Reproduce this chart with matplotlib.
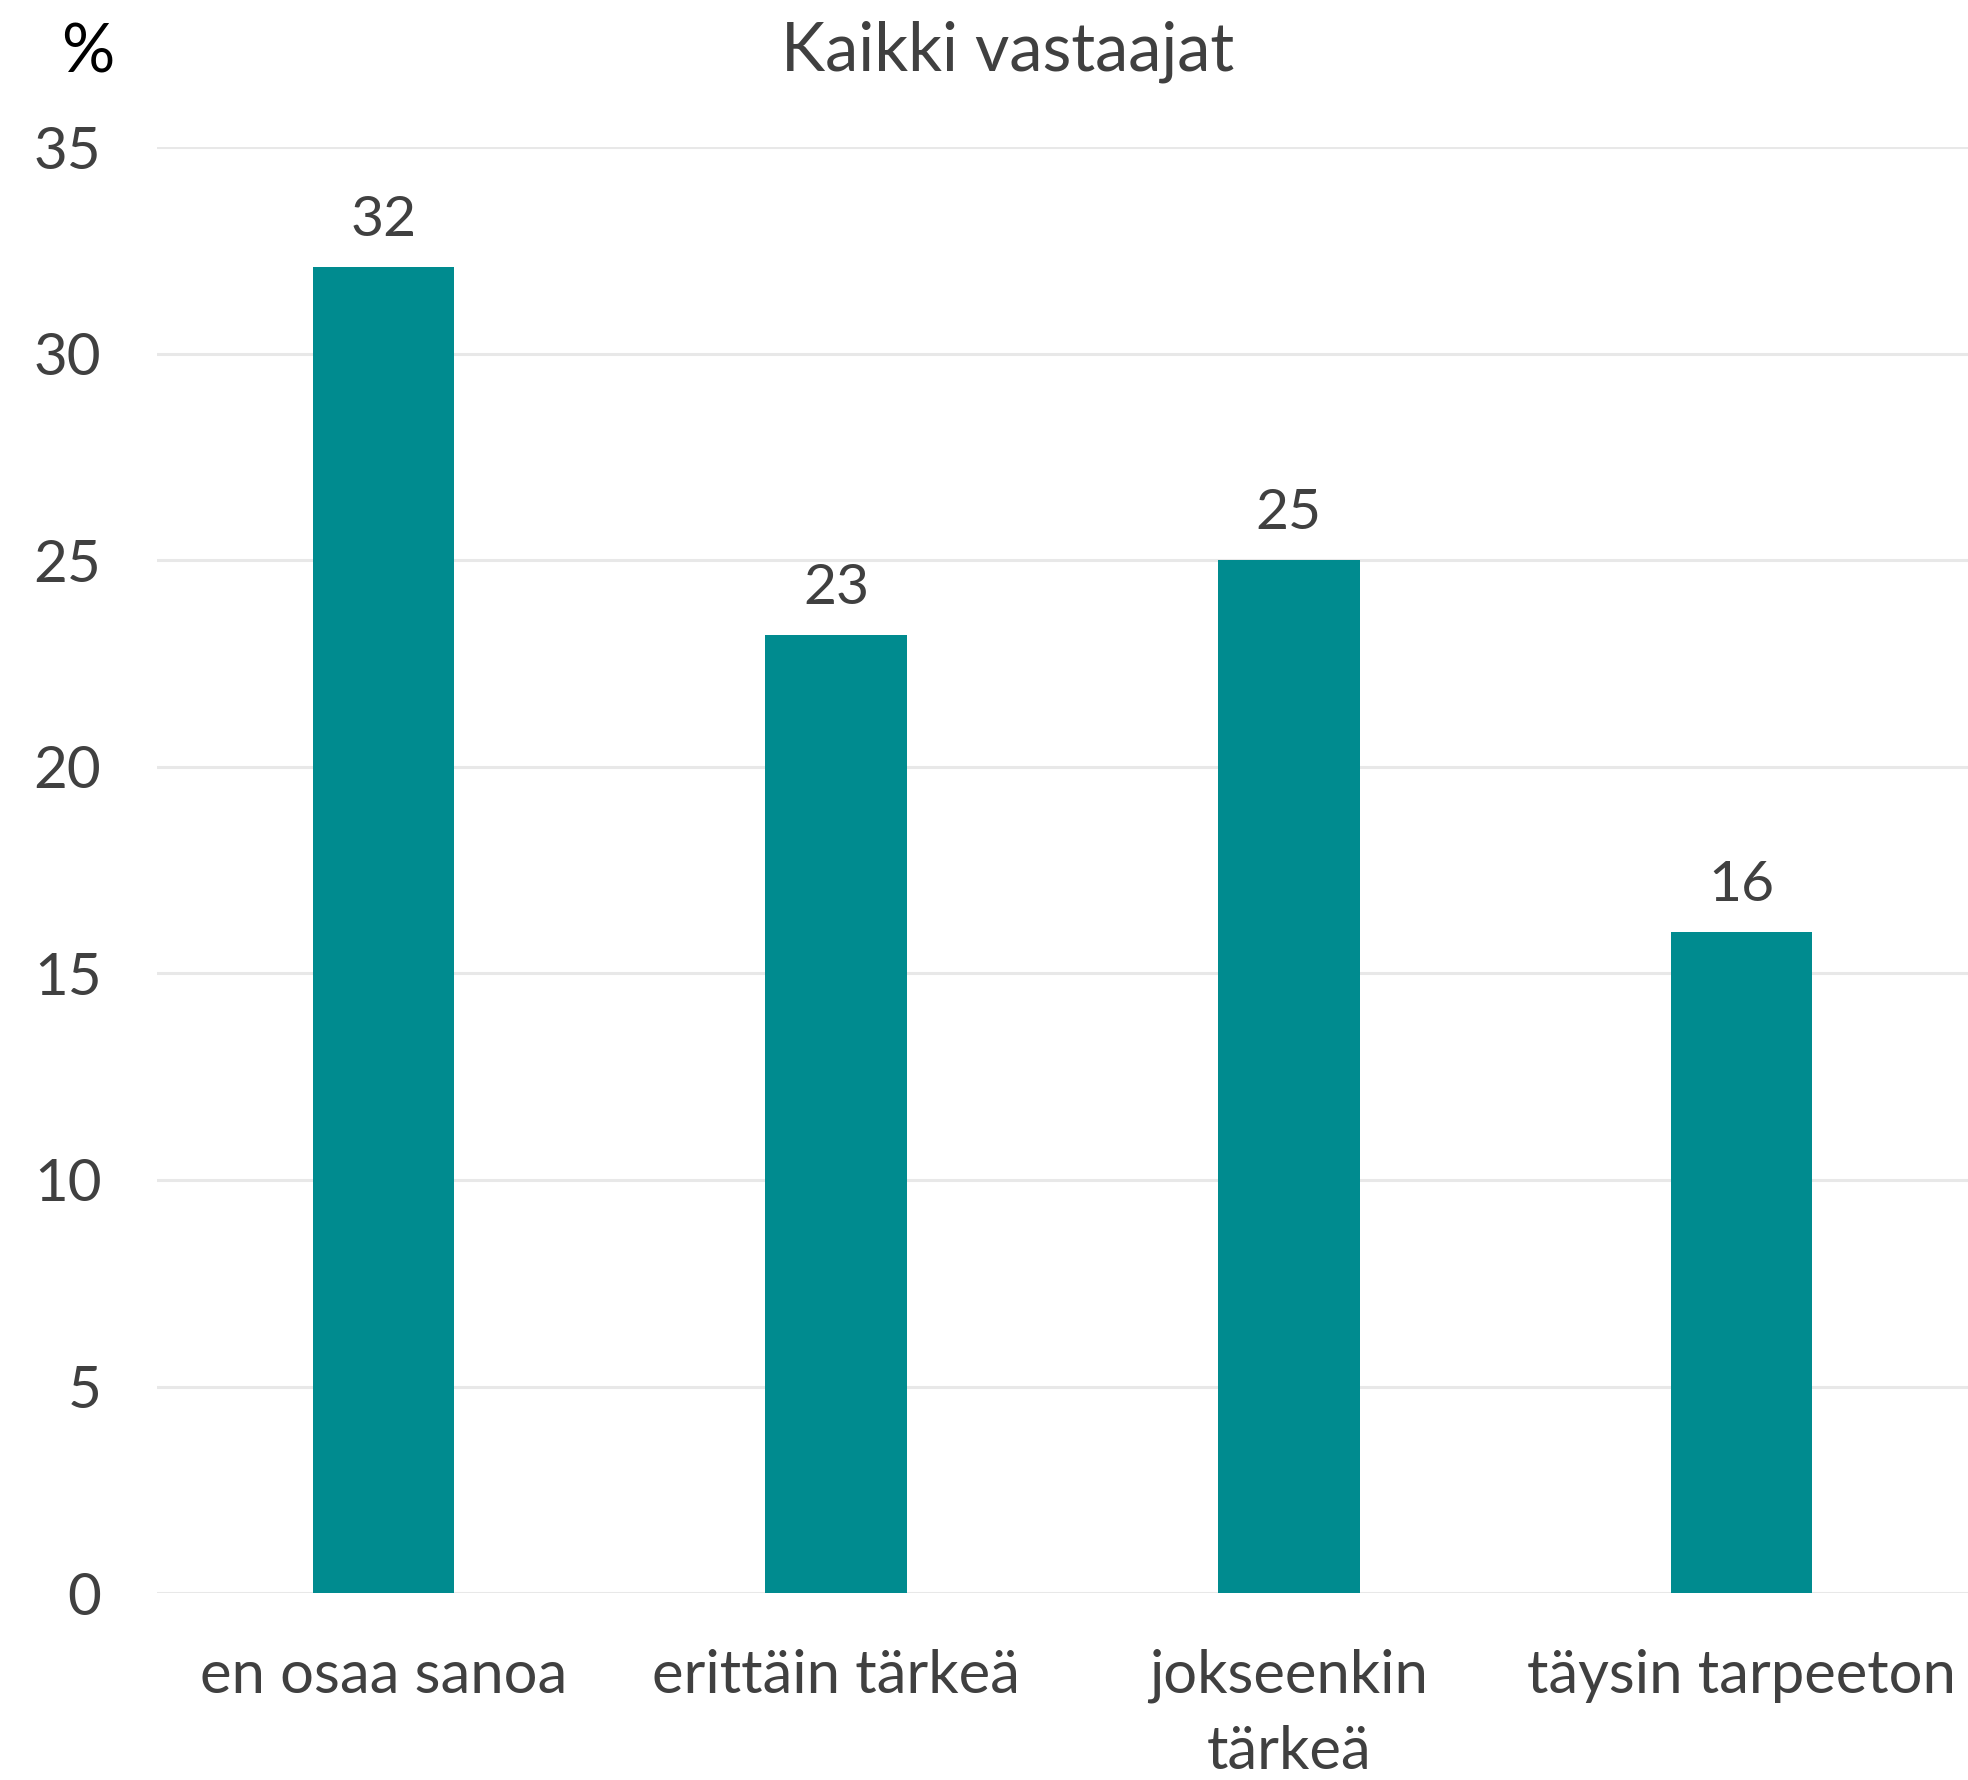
import matplotlib.pyplot as plt

# ---------- データ ----------
categories = ["en osaa sanoa", "erittäin tärkeä", "jokseenkin\ntärkeä", "täysin tarpeeton"]
values = [32.1, 23.2, 25.0, 16.0]
yticks = [0, 5, 10, 15, 20, 25, 30, 35]

plt.rcParams['font.family'] = ['Lato', 'DejaVu Sans']
TEXT = "#404040"
BAR = "#008B8F"

fig = plt.figure(figsize=(19.68, 17.80), dpi=100)
ax = fig.add_axes([0.0798, 0.105, 0.9202, 0.8124])

x = list(range(len(categories)))
bars = ax.bar(x, values, width=0.313, color=BAR, zorder=3)

# 値ラベル
for b, v in zip(bars, values):
    ax.annotate(f"{v:.0f}", (b.get_x() + b.get_width() / 2, v),
                xytext=(0, 15), textcoords="offset points",
                ha="center", va="bottom", fontsize=41, color=TEXT)

ax.set_xlim(-0.5, 3.5)
ax.set_ylim(0, 35)
ax.set_yticks(yticks)
ax.set_xticks(x)
ax.set_xticklabels(categories, linespacing=1.5)
ax.tick_params(axis='y', length=0, pad=40, labelsize=42, labelcolor=TEXT)
ax.tick_params(axis='x', length=0, pad=40, labelsize=43, labelcolor=TEXT)

ax.grid(axis='y', color="#E8E8E8", linewidth=2.2, zorder=0)
for s in ax.spines.values():
    s.set_visible(False)

fig.text(0.512, 0.971, "Kaikki vastaajat", ha="center", va="center",
         fontsize=48, color=TEXT)
fig.text(0.0447, 0.970, "%", ha="center", va="center", fontsize=48, color="black")

fig.savefig("out.png", dpi=100)
